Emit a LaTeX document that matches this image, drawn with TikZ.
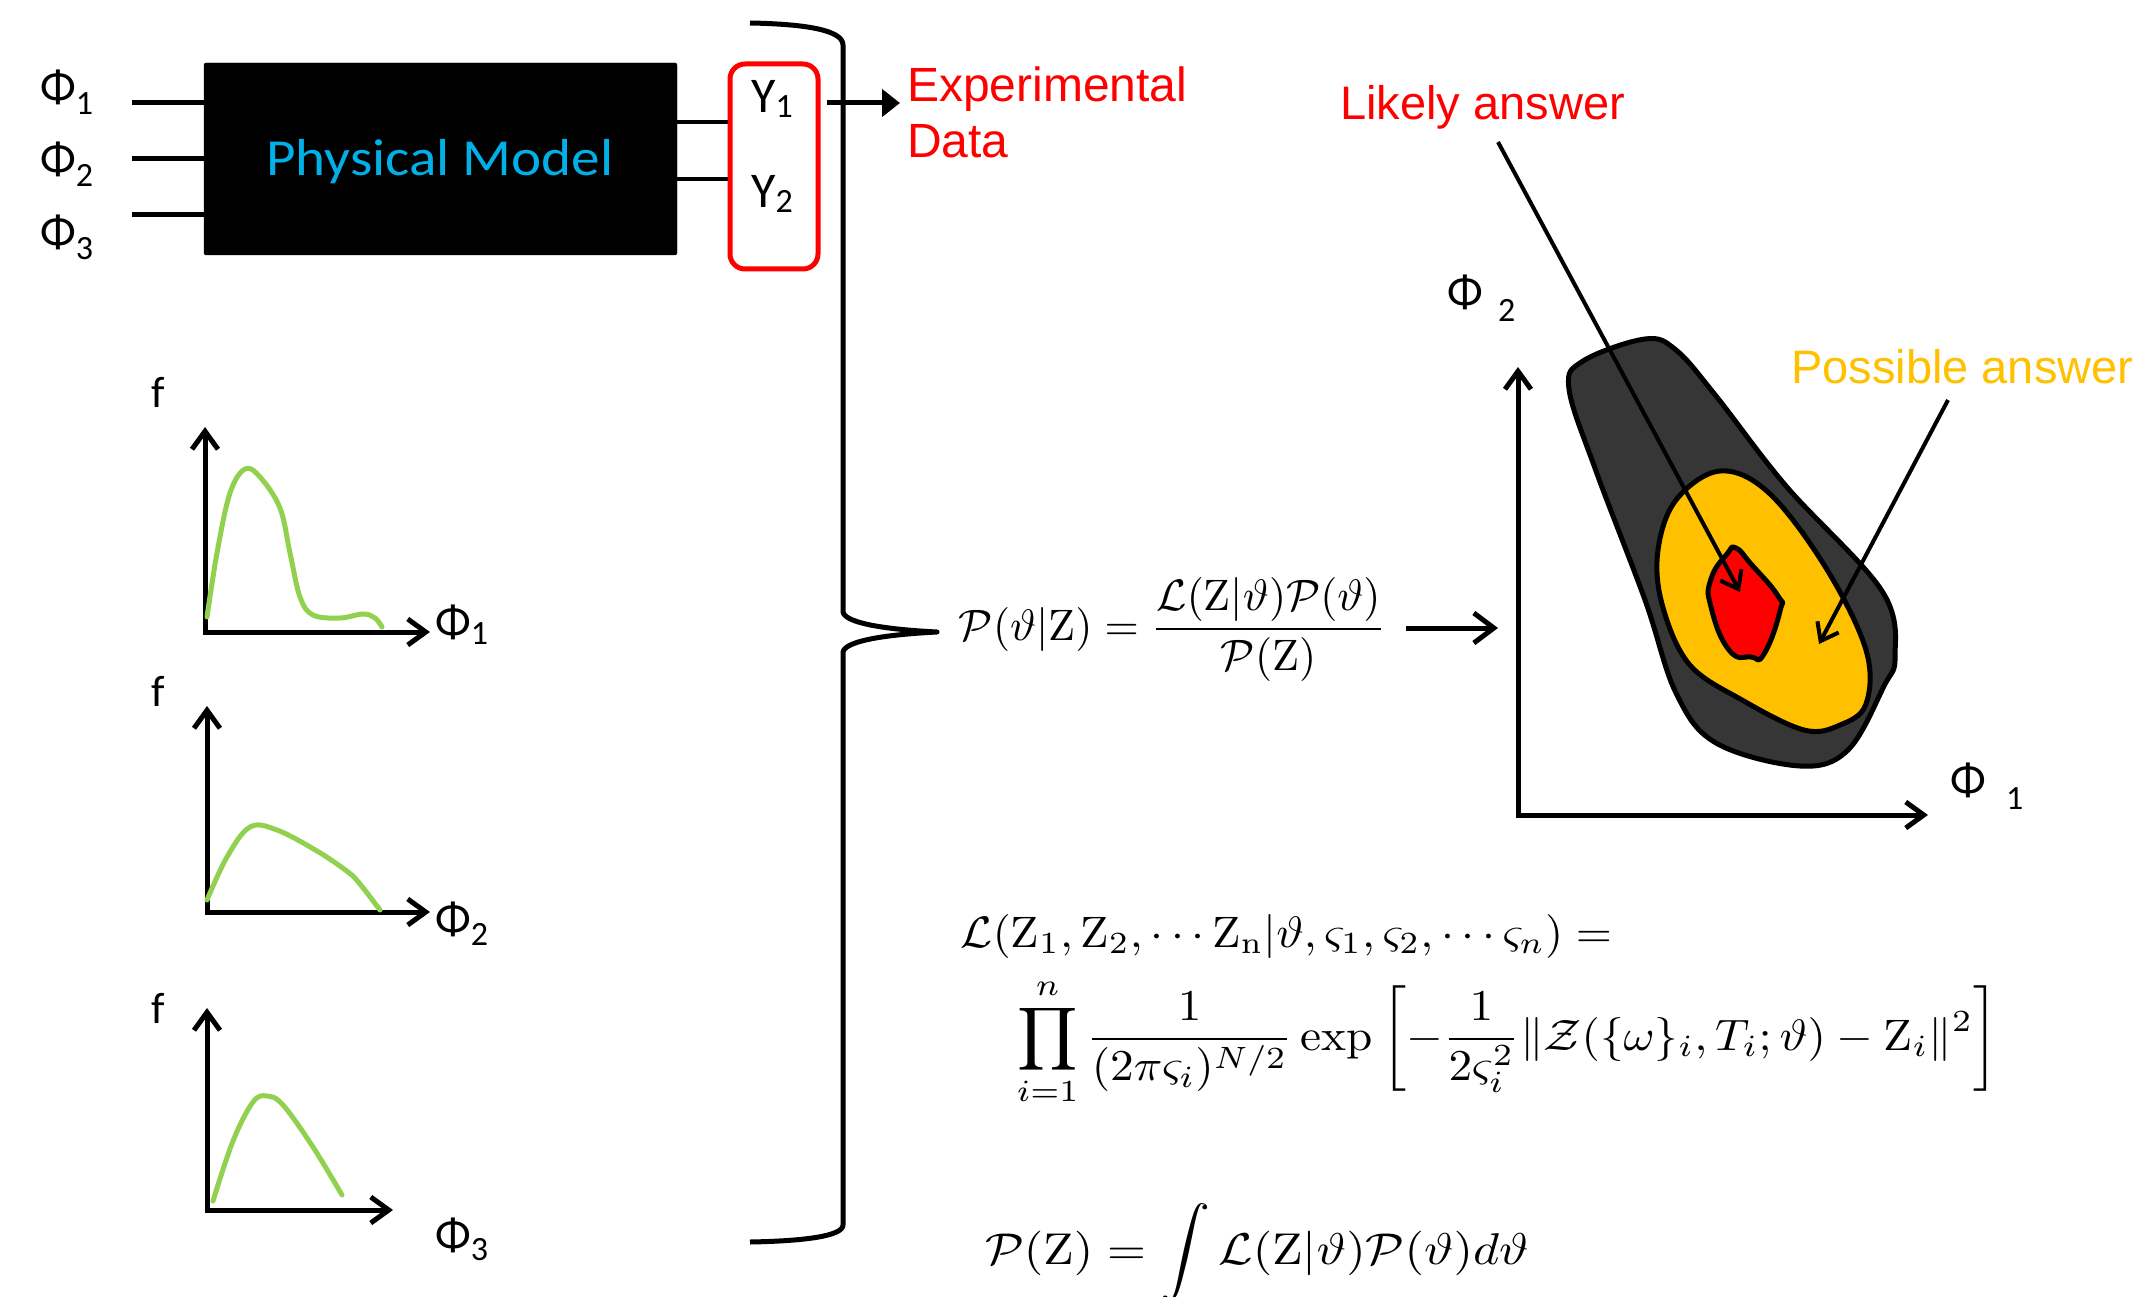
\documentclass[tikz,border=0pt]{standalone}
\usepackage{fontspec}
\usepackage{amsmath}
\usetikzlibrary{arrows.meta}
\newfontfamily\carlito{Carlito}
\newfontfamily\arialf{Liberation Sans}
\definecolor{pmblue}{RGB}{0,176,230}
\definecolor{curvegreen}{RGB}{146,208,80}
\definecolor{possorange}{RGB}{255,192,0}
\definecolor{blobdark}{RGB}{54,54,54}
\newcommand{\phisub}[2]{Φ\raisebox{-#2pt}{\fontsize{34}{34}\selectfont #1}}
\begin{document}
\begin{tikzpicture}[x=1pt,y=-1pt,
  thickline/.style={line width=5pt},
  axisarrow/.style={line width=5pt, line join=miter, {Straight Barb[length=18pt,width=26pt]}-{Straight Barb[length=18pt,width=26pt]}},
  ptrarrow/.style={line width=4pt, -{Straight Barb[length=16pt,width=24pt]}},
  greekl/.style={inner sep=0pt, font=\carlito\fontsize{47}{50}\selectfont},
  flab/.style={inner sep=0pt, font=\carlito\fontsize{44}{48}\selectfont},
  redlab/.style={inner sep=0pt, text=red, font=\arialf\fontsize{48}{52}\selectfont},
  orlab/.style={inner sep=0pt, text=possorange, font=\arialf\fontsize{47}{52}\selectfont},
  curve/.style={line width=5pt, curvegreen, line cap=round, line join=round},
  blob/.style={line width=5pt, draw=black, line join=round},
  eqn/.style={inner sep=0pt, anchor=base west}
]
\useasboundingbox (0,0) rectangle (2144,1297);

% ---------- physical model ----------
\node[draw=black, fill=black, rounded corners=2pt, minimum width=473pt, minimum height=192pt, inner sep=0pt] (pm) at (440.5,159) {};
\node[inner sep=0pt, anchor=base, text=pmblue, xscale=1.1, font=\carlito\fontsize{52}{56}\selectfont] (pmlabel) at (440,176) {Physical Model};

\node[greekl, anchor=base west] (phi1) at (40,103) {\phisub{1}{12}};
\node[greekl, anchor=base west] (phi2) at (40,175) {\phisub{2}{12}};
\node[greekl, anchor=base west] (phi3) at (40,248) {\phisub{3}{12}};
\coordinate (in1) at (132,103);
\coordinate (in2) at (132,159);
\coordinate (in3) at (132,215);
\draw[thickline] (in1) -- (pm.west |- in1);
\draw[thickline] (in2) -- (pm.west |- in2);
\draw[thickline] (in3) -- (pm.west |- in3);

\node[draw=red, line width=5pt, rounded corners=15pt, minimum width=88pt, minimum height=205pt, inner sep=0pt] (ybox) at (774,166.5) {};
\node[greekl, anchor=base west, font=\carlito\fontsize{50}{52}\selectfont] (y1) at (751,113) {Y\raisebox{-5pt}{\fontsize{34}{34}\selectfont 1}};
\node[greekl, anchor=base west, font=\carlito\fontsize{50}{52}\selectfont] (y2) at (751,208) {Y\raisebox{-5pt}{\fontsize{34}{34}\selectfont 2}};
\coordinate (o1) at (677,122);
\coordinate (o2) at (677,179);
\draw[line width=4pt] (pm.east |- o1) -- (ybox.west |- o1);
\draw[line width=4pt] (pm.east |- o2) -- (ybox.west |- o2);

% experimental data
\node[redlab, anchor=base west] (exp) at (907,102) {Experimental};
\node[redlab, anchor=base west] (data) at (907,158) {Data};
\coordinate (ea) at (827,103);
\coordinate (eb) at (900,103);
\draw[line width=5pt, -{Triangle[length=18pt,width=27pt]}] (ea) -- (eb);

% ---------- brace ----------
\draw[line width=5pt, line join=round, line cap=butt]
  (750,23) .. controls (805,24) and (843,30) .. (843,45)
  -- (843,612) .. controls (845,622) and (878,629) .. (937,632)
  .. controls (878,635) and (845,642) .. (843,652)
  -- (843,1225) .. controls (843,1236) and (805,1241) .. (750,1242);

% ---------- marginal pdfs ----------
\node[flab, anchor=base] (f1) at (158,407) {f};
\node[flab, anchor=base] (f2) at (158,706) {f};
\node[flab, anchor=base] (f3) at (158,1023) {f};
\coordinate (g1t) at (205,427); \coordinate (g1o) at (205,632); \coordinate (g1r) at (430,632);
\coordinate (g2t) at (207,706); \coordinate (g2o) at (207,912); \coordinate (g2r) at (430,912);
\coordinate (g3t) at (207,1008); \coordinate (g3o) at (207,1210); \coordinate (g3r) at (393,1210);
\draw[axisarrow] (g1t) -- (g1o) -- (g1r);
\draw[axisarrow] (g2t) -- (g2o) -- (g2r);
\draw[axisarrow] (g3t) -- (g3o) -- (g3r);
\node[greekl, anchor=base west] (gphi1) at (435,637) {\phisub{1}{7}};
\node[greekl, anchor=base west] (gphi2) at (435,934) {\phisub{2}{11}};
\node[greekl, anchor=base west] (gphi3) at (435,1250) {\phisub{3}{10}};

\draw[curve] plot[smooth, tension=0.6] coordinates {(207,617) (217,553) (230,493) (245,469) (260,477) (280,508) (290,553) (300,597) (313,615) (340,618) (363,614) (375,618) (382,627)};
\draw[curve] plot[smooth, tension=0.6] coordinates {(207,900) (227,857) (250,827) (277,830) (317,851) (348,872) (360,884) (380,910)};
\draw[curve] plot[smooth, tension=0.6] coordinates {(213,1201) (233,1141) (253,1102) (267,1096) (283,1105) (313,1147) (342,1195)};

% ---------- equations ----------
\node[eqn, scale=4.4] (bayes) at (958,640) {$\displaystyle \mathcal{P}(\vartheta|\mathrm{Z})=\frac{\mathcal{L}(\mathrm{Z}|\vartheta)\mathcal{P}(\vartheta)}{\mathcal{P}(\mathrm{Z})}$};
\node[eqn, xscale=4.64, yscale=4.4] (lik1) at (960,947) {$\displaystyle \mathcal{L}(\mathrm{Z}_1,\mathrm{Z}_2,\cdots\mathrm{Z}_{\mathrm{n}}|\vartheta,\varsigma_1,\varsigma_2,\cdots\varsigma_n)=$};
\node[eqn, xscale=4.73, yscale=4.4] (lik2) at (1016,1050) {$\displaystyle \prod_{i=1}^{n}\frac{1}{(2\pi\varsigma_i)^{N/2}}\exp\left[-\frac{1}{2\varsigma_i^{2}}\|\mathcal{Z}(\{\omega\}_i,T_i;\vartheta)-\mathrm{Z}_i\|^{2}\right]$};
\node[eqn, xscale=5.0, yscale=4.45] (evid) at (984,1264) {$\displaystyle \mathcal{P}(\mathrm{Z})=\int\mathcal{L}(\mathrm{Z}|\vartheta)\mathcal{P}(\vartheta)d\vartheta$};

\coordinate (ba) at (1406,628);
\coordinate (bb) at (1498,628);
\draw[line width=5pt, -{Straight Barb[length=20pt,width=30pt]}] (ba) -- (bb);

% ---------- posterior plot ----------
\coordinate (pt) at (1518,367); \coordinate (po) at (1518,815); \coordinate (pr) at (1928,815);
\draw[axisarrow] (pt) -- (po) -- (pr);
\node[greekl, anchor=base west] (rphi2) at (1447,308) {Φ};
\node[greekl, anchor=base west, font=\carlito\fontsize{34}{34}\selectfont] (rphi2s) at (1498,321) {2};
\node[greekl, anchor=base west] (rphi1) at (1950,795) {Φ};
\node[greekl, anchor=base west, font=\carlito\fontsize{34}{34}\selectfont] (rphi1s) at (2006,809) {1};

\draw[blob, fill=blobdark] plot[smooth cycle, tension=0.6] coordinates {
  (1569,389) (1583,361) (1645,339) (1676,350) (1716,396) (1786,486) (1882,591)
  (1895,657) (1884,686) (1848,750) (1800,766) (1716,743) (1676,693) (1645,600) (1596,471)};
\draw[blob, fill=possorange] plot[smooth cycle, tension=0.6] coordinates {
  (1720,471) (1769,493) (1826,568) (1866,650) (1866,704) (1840,725) (1804,730)
  (1742,700) (1689,664) (1662,604) (1658,550) (1676,500)};
\draw[blob, fill=red] plot[smooth cycle, tension=0.85] coordinates {
  (1736,548) (1751,564) (1778,596) (1780,611) (1764,654) (1751,657) (1729,650)
  (1711,607) (1711,579) (1727,554)};

\node[redlab, anchor=base west, font=\arialf\fontsize{47}{52}\selectfont] (likely) at (1340,120) {Likely answer};
\node[orlab, anchor=base west] (possible) at (1791,383) {Possible answer};
\coordinate (la) at (1498,142); \coordinate (lb) at (1740,592);
\coordinate (pa) at (1948,400); \coordinate (pb) at (1819,644);
\draw[ptrarrow] (la) -- (lb);
\draw[ptrarrow] (pa) -- (pb);
\end{tikzpicture}
\end{document}
